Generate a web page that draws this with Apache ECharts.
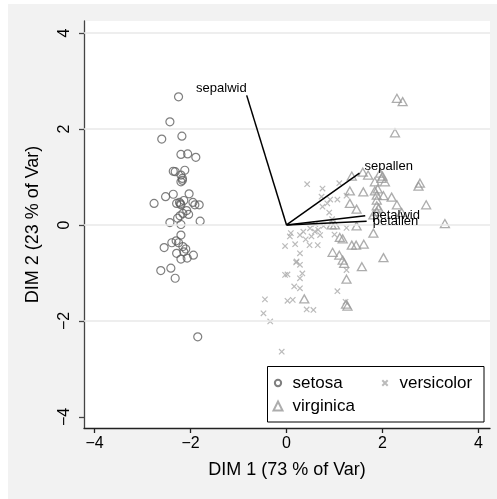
<!DOCTYPE html>
<html><head><meta charset="utf-8">
<script src="https://cdn.jsdelivr.net/npm/echarts@6/dist/echarts.min.js"></script>
<style>html,body{margin:0;padding:0;background:#fff}#c{width:497px;height:499px}</style>
</head><body><div id="c"></div>
<script>
// ---- data ----
const setosa = [[-2.25,2.67],[-2.43,2.15],[-2.60,1.79],[-2.18,1.85],[-2.20,1.47],[-2.06,1.48],[-1.89,1.41],[-2.36,1.12],[-2.32,1.11],[-2.12,1.14],[-2.20,1.04],[-2.17,0.97],[-2.20,0.90],
[-2.76,0.45],[-2.52,0.59],[-2.36,0.64],[-2.03,0.65],[-2.29,0.45],[-2.23,0.47],[-2.14,0.51],[-2.20,0.42],[-1.95,0.47],[-1.91,0.42],[-1.82,0.42],[-2.08,0.30],[-2.16,0.24],[-2.22,0.19],[-2.04,0.22],[-2.27,0.14],[-2.43,0.05],[-2.20,0.01],[-1.80,0.08],[-2.20,-0.21],[-2.30,-0.33],[-2.39,-0.37],[-2.25,-0.37],[-2.55,-0.47],[-2.16,-0.45],[-2.10,-0.50],[-2.29,-0.59],[-2.14,-0.56],[-1.94,-0.63],[-2.20,-0.71],[-2.07,-0.69],[-2.62,-0.95],[-2.41,-0.90],[-2.32,-1.11],[-1.85,-2.33],[-2.21,0.44],[-2.17,0.93]];
const versicolor = [[0.43,0.85],[0.75,0.76],[1.10,0.87],[0.73,0.59],[0.91,0.53],[1.06,0.53],[0.75,0.38],[0.89,0.26],[1.25,0.61],[0.09,-0.17],[0.07,-0.24],[0.28,-0.21],[0.35,-0.14],[0.49,-0.07],[0.59,-0.14],[0.70,-0.21],[0.66,-0.10],[0.52,-0.24],[0.18,-0.40],[-0.03,-0.44],[0.48,-0.42],[0.65,-0.42],[0.28,-0.59],[0.21,-0.76],[0.77,-0.02],[1.25,-0.06],
[0.20,-0.78],[0.28,-0.83],[0.33,-1.01],[-0.03,-1.04],[0.02,-1.03],[0.28,-1.11],[0.16,-1.28],[0.28,-1.32],[-0.45,-1.55],[0.02,-1.58],[0.13,-1.56],[0.42,-1.76],[0.56,-1.77],[-0.48,-1.84],[-0.34,-2.01],[-0.10,-2.64],[1.06,-1.38],[1.25,-0.94],[1.23,-1.60],
[0.60,0.02],[0.95,0.12],[0.40,-0.30],[1.00,-0.20],[0.85,0.45]];
const virginica = [[1.36,1.02],[1.32,0.71],[1.32,0.45],[1.46,0.33],[0.94,0.00],[1.01,0.00],[1.11,-0.26],[1.17,-0.29],[1.36,-0.42],[1.45,-0.42],[0.96,-0.57],[1.10,-0.63],[1.17,-0.73],
[2.30,2.64],[2.42,2.57],[2.26,1.92],
[1.59,1.10],[1.70,1.04],[1.95,1.08],[1.98,0.97],[2.05,0.90],[1.84,0.90],[2.78,0.87],[2.75,0.81],[1.60,0.69],[1.84,0.71],[1.88,0.62],[2.02,0.61],[2.19,0.58],[1.88,0.52],[2.30,0.42],[2.91,0.42],[1.88,0.40],[1.88,0.28],[2.40,0.26],[1.81,0.21],[1.46,-0.02],[3.30,0.03],[1.81,-0.17],[1.61,-0.40],[2.02,-0.68],
[1.20,-0.80],[1.57,-0.87],[1.25,-1.13],[0.37,-1.54],[1.27,-1.69],
[1.90,0.75],[1.92,0.35],[1.24,-1.65],[2.00,1.02]];
const loadingNames = ['sepalwid','sepallen','petalwid','petallen'];
const loadingX = [-0.83, 1.52, 1.64, 1.67];
const loadingY = [2.70, 1.08, 0.19, 0.08];
const xTicks = [-4,-2,0,2,4];
const yTicks = [-4,-2,0,2,4];
const yGrid = [-2,0,2,4];
const xTitle = 'DIM 1 (73 % of Var)';
const yTitle = 'DIM 2 (23 % of Var)';

// ---- styles ----
const FONT = "'Liberation Sans', Arial, Helvetica, sans-serif";
const labelPlace = {
  sepalwid: {position:'left', distance:0, offset:[0,-7]},
  sepallen: {position:'right', distance:5, offset:[0,-7]},
  petalwid: {position:'right', distance:7, offset:[0,0]},
  petallen: {position:'right', distance:6, offset:[0,0]}
};
const crossPath = 'path://M0,0M10,10M2,2L8,8M8,2L2,8';
const legendCircle = 'path://M0,0M10,10M8.5,5A3.5,3.5,0,1,1,1.5,5A3.5,3.5,0,1,1,8.5,5Z';
const fmt = v => v < 0 ? '\u2212' + Math.abs(v) : String(v);

const loadingSeries = loadingNames.map((n, i) => ({
  type:'line', name:'_' + n, z:6, silent:true,
  symbol:'circle', symbolSize:0.1, showSymbol:true,
  lineStyle:{color:'#000', width:1.5}, itemStyle:{color:'#000'},
  data:[
    {value:[0,0], label:{show:false}},
    {value:[loadingX[i], loadingY[i]],
     label:Object.assign({show:true, formatter:n, color:'#000', fontSize:13, fontFamily:FONT}, labelPlace[n])}
  ]
}));

const chart = echarts.init(document.getElementById('c'), null, {renderer:'canvas'});
chart.setOption({
  animation:false,
  backgroundColor:'#f2f2f2',
  textStyle:{fontFamily:FONT},
  graphic:[
    {type:'rect', shape:{x:0,y:0,width:8,height:499}, style:{fill:'#fff'}, silent:true},
    {type:'rect', shape:{x:0,y:0,width:497,height:4}, style:{fill:'#fff'}, silent:true},
    {type:'rect', z:3, shape:{x:267.5,y:366.5,width:216.5,height:55.5}, style:{fill:'#fff', stroke:'#000', lineWidth:1}, silent:true}
  ],
  grid:{left:84, top:21, width:406, height:407, show:true, backgroundColor:'#fff', borderWidth:0},
  xAxis:{
    type:'value', min:-4.22, max:4.24,
    name:xTitle, nameLocation:'middle', nameGap:33,
    nameTextStyle:{fontSize:18, color:'#000', fontFamily:FONT},
    axisLine:{show:true, onZero:false, lineStyle:{color:'#222', width:1.3}},
    axisTick:{show:true, length:5, customValues:xTicks, lineStyle:{color:'#222', width:1.3}},
    axisLabel:{customValues:xTicks, formatter:fmt, fontSize:16, color:'#000', margin:8, fontFamily:FONT},
    splitLine:{show:false}
  },
  yAxis:{
    type:'value', min:-4.23, max:4.25,
    name:yTitle, nameLocation:'middle', nameGap:42,
    nameTextStyle:{fontSize:18, color:'#000', fontFamily:FONT},
    axisLine:{show:true, onZero:false, lineStyle:{color:'#444', width:1.3}},
    axisTick:{show:true, length:5, customValues:yTicks, lineStyle:{color:'#444', width:1.3}},
    axisLabel:{customValues:yTicks, formatter:fmt, fontSize:16, color:'#000', rotate:90, margin:11, fontFamily:FONT},
    splitLine:{show:false}
  },
  legend:{
    z:5, left:267.5, top:366.5, width:222, itemGap:0, orient:'horizontal', padding:5,
    itemWidth:9, itemHeight:9,
    textStyle:{fontSize:17, color:'#000', width:87, lineHeight:23, padding:[0,0,0,5], fontFamily:FONT},
    data:[{name:'setosa', icon:legendCircle}, {name:'versicolor'}, {name:'virginica'}],
    selectedMode:false
  },
  series:[
    {type:'scatter', name:'_grid', data:[], z:1, silent:true,
     markLine:{silent:true, symbol:['none','none'], label:{show:false}, animation:false,
       lineStyle:{type:'solid', color:'#e8e8e8', width:1.5},
       data:yGrid.map(v => ({yAxis:v}))}},
    {type:'scatter', name:'setosa', data:setosa, z:2, symbol:'circle', symbolSize:8,
     itemStyle:{color:'rgba(0,0,0,0)', borderColor:'#5f5f5f', borderWidth:1.2}},
    {type:'scatter', name:'versicolor', data:versicolor, z:2, symbol:crossPath, symbolSize:9,
     itemStyle:{color:'rgba(0,0,0,0)', borderColor:'#aaaaaa', borderWidth:1.2}},
    {type:'scatter', name:'virginica', data:virginica, z:2, symbol:'triangle', symbolSize:[9,8],
     itemStyle:{color:'rgba(0,0,0,0)', borderColor:'#999999', borderWidth:1.3}},
    ...loadingSeries
  ]
});
</script></body></html>
